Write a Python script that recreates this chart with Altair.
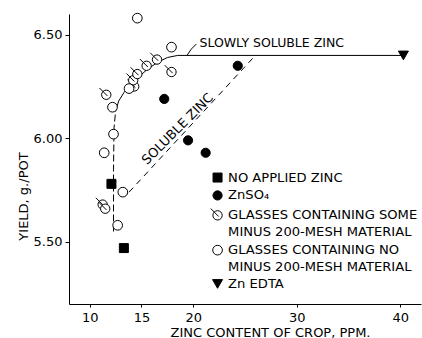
import altair as alt
import pandas as pd

FONT = "DejaVu Sans"

# ---- values ----
no_zinc_x = [12.1, 13.3]
no_zinc_y = [5.78, 5.47]
znso4_x = [17.2, 19.5, 21.2, 24.3]
znso4_y = [6.19, 5.99, 5.93, 6.35]
some_x = [11.6, 14.3, 14.2, 14.6, 15.5, 16.5, 17.9, 11.25, 11.5]
some_y = [6.21, 6.25, 6.28, 6.31, 6.35, 6.38, 6.32, 5.68, 5.66]
none_x = [14.6, 17.9, 13.8, 12.2, 12.3, 11.4, 13.2, 12.7]
none_y = [6.58, 6.44, 6.24, 6.15, 6.02, 5.93, 5.74, 5.58]
edta_x = [40.3]
edta_y = [6.40]

slow_dash_x = [12.3, 12.3, 12.35, 12.5]
slow_dash_y = [5.55, 5.85, 6.05, 6.13]
slow_x = [12.5, 12.8, 13.3, 13.9, 14.6, 15.5, 16.5, 17.5, 18.5, 40.3]
slow_y = [6.13, 6.18, 6.22, 6.255, 6.29, 6.33, 6.365, 6.39, 6.40, 6.40]
hook_x = [19.4, 19.8, 20.3]
hook_y = [6.40, 6.43, 6.455]
soluble_x = [13.8, 26.0]
soluble_y = [5.74, 6.40]

x_ticks = [10, 15, 20, 30, 40]
y_ticks = [5.5, 6.0, 6.5]

legend_keys = [
    "NO APPLIED ZINC",
    "ZnSO\u2084",
    "GLASSES CONTAINING SOME",
    "MINUS 200-MESH MATERIAL",
    "GLASSES CONTAINING NO",
    "MINUS 200-MESH MATERIAL ",
    "Zn EDTA",
]

annot_text = ["SLOWLY SOLUBLE ZINC", "SOLUBLE ZINC"]
annot_x = [20.6, 18.5]
annot_y = [6.46, 6.045]

# ---- tables ----
def pts(xs, ys, cat):
    return pd.DataFrame({"x": xs, "y": ys, "cat": cat})

points = pd.concat([
    pts(no_zinc_x, no_zinc_y, legend_keys[0]),
    pts(znso4_x, znso4_y, legend_keys[1]),
    pts(some_x, some_y, legend_keys[2]),
    pts(none_x, none_y, legend_keys[4]),
    pts(edta_x, edta_y, legend_keys[6]),
], ignore_index=True)

def line_df(xs, ys):
    return pd.DataFrame({"x": xs, "y": ys, "i": list(range(len(xs)))})

SLASHED = "M-1,0A1,1,0,1,1,1,0A1,1,0,1,1,-1,0Z M-1.45,-1.45L0.25,0.25"
EMPTY = "M0,0"

xenc = alt.X("x:Q", scale=alt.Scale(domain=[8, 42], nice=False, zero=False),
             axis=alt.Axis(values=x_ticks, format="d", grid=False, tickSize=3,
                           labelPadding=4, title="ZINC CONTENT OF CROP, PPM.",
                           titleX=201, titleY=28, titleBaseline="middle",
                           titleAnchor="start", titleAlign="center"))
yenc = alt.Y("y:Q", scale=alt.Scale(domain=[5.2, 6.6], nice=False, zero=False),
             axis=alt.Axis(values=y_ticks, format=".2f", grid=False, tickSize=4,
                           labelPadding=3, title="YIELD, g./POT",
                           titleX=-46, titleY=182, titleAngle=270,
                           titleAlign="center", titleBaseline="middle"))

def line_layer(xs, ys, dash=None):
    kw = dict(color="black", strokeWidth=1)
    if dash:
        kw["strokeDash"] = dash
    return alt.Chart(line_df(xs, ys)).mark_line(**kw).encode(
        x=xenc, y=yenc, order="i:Q")

lines = [
    line_layer(slow_dash_x, slow_dash_y, [7, 3]),
    line_layer(slow_x, slow_y),
    line_layer(hook_x, hook_y),
    line_layer(soluble_x, soluble_y, [6, 5]),
]

point_layer = alt.Chart(points).mark_point(
    filled=True, stroke="black", strokeWidth=1, opacity=1
).encode(
    x=xenc, y=yenc,
    shape=alt.Shape("cat:N", title=None,
                    scale=alt.Scale(domain=legend_keys,
                                    range=["square", "circle", SLASHED, EMPTY,
                                           "circle", EMPTY, "triangle-down"]),
                    legend=alt.Legend(orient="none", legendX=142, legendY=157,
                                      padding=0, rowPadding=2.9, labelOffset=4,
                                      labelFontSize=13.1, labelFont=FONT,
                                      labelColor="black", labelLimit=400,
                                      symbolStrokeColor="black",
                                      symbolStrokeWidth=1)),
    fill=alt.Fill("cat:N", title=None,
                  scale=alt.Scale(domain=legend_keys,
                                  range=["black", "black", "white", "white",
                                         "white", "white", "black"])),
    size=alt.Size("cat:N", title=None,
                  scale=alt.Scale(domain=legend_keys,
                                  range=[81, 100, 64, 64, 64, 64, 70])),
)

annot = pd.DataFrame({"x": annot_x, "y": annot_y, "t": annot_text})
txt1 = alt.Chart(annot.iloc[[0]]).mark_text(
    align="left", baseline="middle", font=FONT, fontSize=12.5, color="black"
).encode(x=xenc, y=yenc, text="t:N")
txt2 = alt.Chart(annot.iloc[[1]]).mark_text(
    align="center", baseline="middle", font=FONT, fontSize=13, color="black",
    angle=315
).encode(x=xenc, y=yenc, text="t:N")

chart = alt.layer(*lines, point_layer, txt1, txt2).properties(
    width=352, height=290,
    autosize=alt.AutoSizeParams(type="none"),
    padding={"left": 69, "top": 14, "right": 1, "bottom": 34},
    background="white",
).configure_view(stroke=None).configure_axis(
    labelFont=FONT, titleFont=FONT, labelFontSize=13, titleFontSize=13,
    titleFontWeight="normal", labelColor="black", titleColor="black",
    domainColor="black", tickColor="black", domainWidth=1, tickWidth=1,
).configure_legend(labelFont=FONT)

chart.save("out.html", embed_options={"renderer": "svg", "actions": False})
